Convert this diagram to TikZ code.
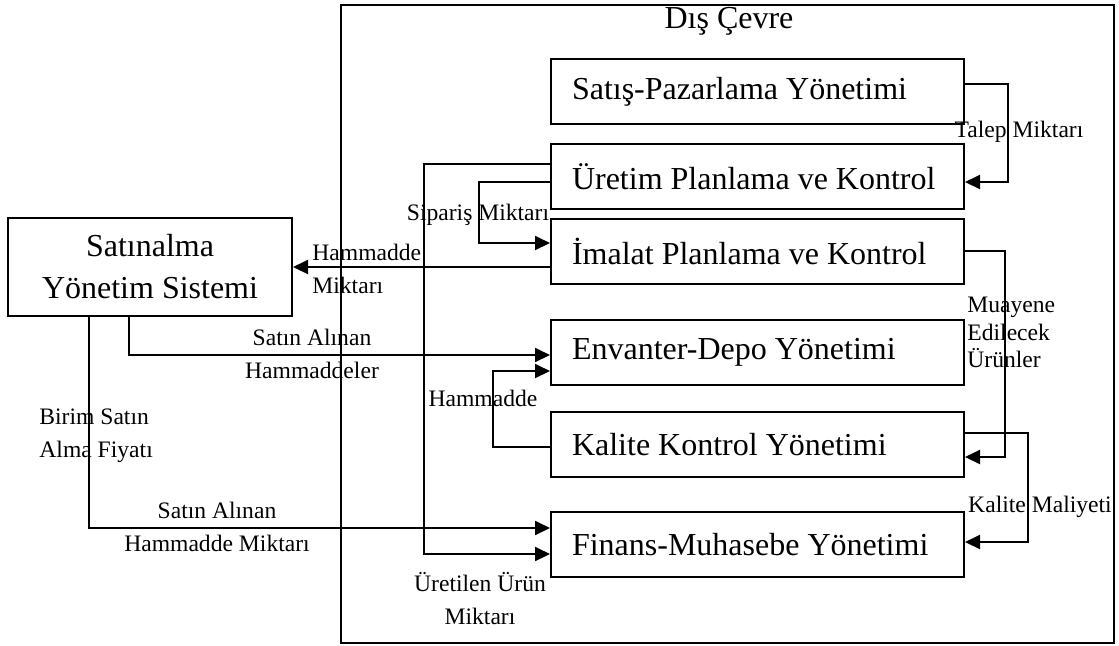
\documentclass[tikz,border=0pt]{standalone}
\usepackage{fontspec}
\setmainfont{Liberation Serif}
\usetikzlibrary{arrows.meta}

\newcommand{\unittext}[1]{\makebox[185.5pt][l]{#1}}

\begin{document}
\begin{tikzpicture}[x=0.5pt,y=-0.5pt,
  every node/.style={inner sep=0pt},
  unit/.style={draw, line width=1pt, minimum height=32.5pt, minimum width=206.5pt,
    inner xsep=10.5pt, inner ysep=0pt, font=\fontsize{16}{19}\selectfont},
  flow/.style={line width=1pt, -{Triangle[length=7.5pt,width=7pt]}},
  lbl/.style={font=\fontsize{11.8}{16.5}\selectfont, align=center},
]
\useasboundingbox (0,0) rectangle (1119,645);

% outer environment frame
\draw[line width=1pt] (341,5) rectangle (1114,643);
\node[font=\fontsize{16}{19}\selectfont] (dis) at (729,21) {Dış Çevre};

% management units
\node[unit] (satis)    at (757.5,91.5)  {\unittext{Satış-Pazarlama Yönetimi}};
\node[unit] (uretim)   at (757.5,176.5) {\unittext{Üretim Planlama ve Kontrol}};
\node[unit] (imalat)   at (757.5,251.5) {\unittext{İmalat Planlama ve Kontrol}};
\node[unit] (envanter) at (757.5,352)   {\unittext{Envanter-Depo Yönetimi}};
\node[unit] (kalite)   at (757.5,444.5) {\unittext{Kalite Kontrol Yönetimi}};
\node[unit] (finans)   at (757.5,544.5) {\unittext{Finans-Muhasebe Yönetimi}};

% purchasing system
\node[draw, line width=1pt, minimum width=142pt, minimum height=49pt, align=center,
  font=\fontsize{16}{21}\selectfont] (satin) at (150,267) {Satınalma\\Yönetim Sistemi};

% information flows
\draw[flow] (satis.east |- 0,84) -- (1008,84) |- (uretim.east |- 0,182);
\draw[flow] (uretim.west |- 0,164) -- (424,164) |- (finans.west |- 0,554);
\draw[flow] (uretim.west |- 0,182) -- (479,182) |- (imalat.west |- 0,243);
\draw[flow] (imalat.west |- 0,267) -- (satin.east |- 0,267);
\draw[flow] (satin.south -| 129,0) |- (envanter.west |- 0,355);
\draw[flow] (kalite.west |- 0,447) -- (493,447) |- (envanter.west |- 0,371);
\draw[flow] (satin.south -| 89,0) |- (finans.west |- 0,528);
\draw[flow] (imalat.east |- 0,251) -- (1005,251) |- (kalite.east |- 0,457);
\draw[flow] (kalite.east |- 0,433) -- (1028,433) |- (finans.east |- 0,542);

% flow labels
\node[lbl] (lTalep) at (1019,132) {Talep Miktarı};
\node[lbl] (lUretilen) at (480,599) {Üretilen Ürün\\Miktarı};
\node[lbl] (lSiparis) at (478,215) {Sipariş Miktarı};
\node[lbl, align=left, anchor=west] (lHamMik) at (312,268.5) {Hammadde\\Miktarı};
\node[lbl] (lSatinAlinan) at (312,354) {Satın Alınan\\Hammaddeler};
\node[lbl] (lHam) at (483,398) {Hammadde};
\node[lbl, align=left, anchor=west] (lBirim) at (39,436) {Birim Satın\\Alma Fiyatı};
\node[lbl] (lSatinMiktar) at (217,526.5) {Satın Alınan\\Hammadde Miktarı};
\node[lbl, align=left, anchor=west, font=\fontsize{11.8}{13.75}\selectfont] (lMuayene)
  at (967,332.5) {Muayene\\Edilecek\\Ürünler};
\node[lbl] (lKaliteMal) at (1040,507) {Kalite Maliyeti};
\end{tikzpicture}
\end{document}
